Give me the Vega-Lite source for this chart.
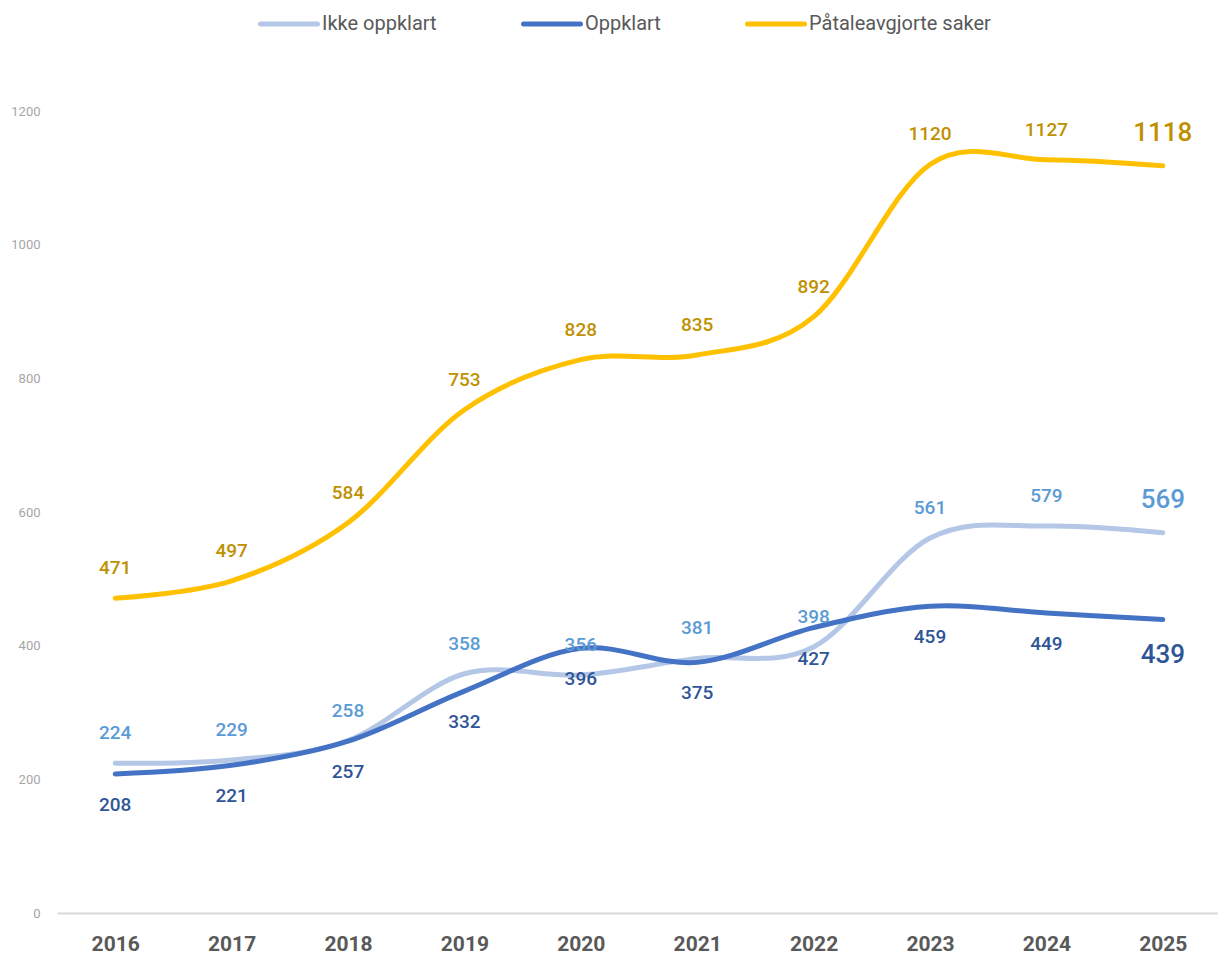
{
  "$schema": "https://vega.github.io/schema/vega-lite/v6.json",
  "width": 1164,
  "height": 802,
  "autosize": {"type": "none"},
  "padding": {"left": 57, "top": 111, "right": 0, "bottom": 43},
  "background": "white",
  "config": {
    "view": {"stroke": null},
    "font": "Roboto"
  },
  "data": {
    "values": [
      {"year": "2016", "series": "Ikke oppklart", "value": 224},
      {"year": "2017", "series": "Ikke oppklart", "value": 229},
      {"year": "2018", "series": "Ikke oppklart", "value": 258},
      {"year": "2019", "series": "Ikke oppklart", "value": 358},
      {"year": "2020", "series": "Ikke oppklart", "value": 356},
      {"year": "2021", "series": "Ikke oppklart", "value": 381},
      {"year": "2022", "series": "Ikke oppklart", "value": 398},
      {"year": "2023", "series": "Ikke oppklart", "value": 561},
      {"year": "2024", "series": "Ikke oppklart", "value": 579},
      {"year": "2025", "series": "Ikke oppklart", "value": 569},
      {"year": "2016", "series": "Oppklart", "value": 208},
      {"year": "2017", "series": "Oppklart", "value": 221},
      {"year": "2018", "series": "Oppklart", "value": 257},
      {"year": "2019", "series": "Oppklart", "value": 332},
      {"year": "2020", "series": "Oppklart", "value": 396},
      {"year": "2021", "series": "Oppklart", "value": 375},
      {"year": "2022", "series": "Oppklart", "value": 427},
      {"year": "2023", "series": "Oppklart", "value": 459},
      {"year": "2024", "series": "Oppklart", "value": 449},
      {"year": "2025", "series": "Oppklart", "value": 439},
      {"year": "2016", "series": "Påtaleavgjorte saker", "value": 471},
      {"year": "2017", "series": "Påtaleavgjorte saker", "value": 497},
      {"year": "2018", "series": "Påtaleavgjorte saker", "value": 584},
      {"year": "2019", "series": "Påtaleavgjorte saker", "value": 753},
      {"year": "2020", "series": "Påtaleavgjorte saker", "value": 828},
      {"year": "2021", "series": "Påtaleavgjorte saker", "value": 835},
      {"year": "2022", "series": "Påtaleavgjorte saker", "value": 892},
      {"year": "2023", "series": "Påtaleavgjorte saker", "value": 1120},
      {"year": "2024", "series": "Påtaleavgjorte saker", "value": 1127},
      {"year": "2025", "series": "Påtaleavgjorte saker", "value": 1118}
    ]
  },
  "encoding": {
    "x": {
      "field": "year", "type": "ordinal",
      "scale": {"type": "point", "padding": 0.5},
      "axis": {
        "title": null, "labelAngle": 0, "ticks": false,
        "domainColor": "#D9D9D9", "domainWidth": 2,
        "labelFont": "Roboto", "labelFontSize": 21, "labelFontWeight": "bold",
        "labelColor": "#595959", "labelPadding": 20
      }
    },
    "y": {
      "field": "value", "type": "quantitative",
      "scale": {"domain": [0, 1200], "nice": false},
      "axis": {
        "title": null, "values": [0, 200, 400, 600, 800, 1000, 1200], "format": "d",
        "grid": false, "domain": false, "ticks": false,
        "labelColor": "#A6A6A6", "labelFontSize": 13, "labelPadding": 17
      }
    }
  },
  "layer": [
    {
      "mark": {"type": "line", "interpolate": "cardinal", "strokeWidth": 5, "strokeCap": "round"},
      "encoding": {
        "color": {
          "field": "series", "type": "nominal",
          "scale": {
            "domain": ["Ikke oppklart", "Oppklart", "Påtaleavgjorte saker"],
            "range": ["#B4C7E7", "#4472C4", "#FFC000"]
          },
          "legend": {
            "title": null, "orient": "none", "direction": "horizontal",
            "legendX": 201, "legendY": -118,
            "symbolType": "stroke", "symbolSize": 3249, "symbolStrokeWidth": 5,
            "labelFontSize": 20, "labelColor": "#595959", "labelOffset": 2,
            "columnPadding": 76, "labelFont": "Roboto", "labelLimit": 400,
            "offset": 0,
            "encode": {"symbols": {"update": {"strokeCap": {"value": "round"}}}}
          }
        }
      }
    },
    {
      "transform": [{"filter": "datum.series != 'Oppklart'"}],
      "mark": {"type": "text", "baseline": "bottom", "dy": -20, "fontWeight": 500},
      "encoding": {
        "text": {"field": "value", "type": "quantitative"},
        "size": {"condition": {"test": "datum.year == '2025'", "value": 26}, "value": 19},
        "color": {
          "field": "series", "type": "nominal",
          "scale": {
            "domain": ["Ikke oppklart", "Oppklart", "Påtaleavgjorte saker"],
            "range": ["#5B9BD5", "#2F5597", "#BF9000"]
          },
          "legend": null
        }
      }
    },
    {
      "transform": [{"filter": "datum.series == 'Oppklart'"}],
      "mark": {"type": "text", "baseline": "top", "dy": 22, "fontWeight": 500},
      "encoding": {
        "text": {"field": "value", "type": "quantitative"},
        "size": {"condition": {"test": "datum.year == '2025'", "value": 26}, "value": 19},
        "color": {
          "field": "series", "type": "nominal",
          "scale": {
            "domain": ["Ikke oppklart", "Oppklart", "Påtaleavgjorte saker"],
            "range": ["#5B9BD5", "#2F5597", "#BF9000"]
          },
          "legend": null
        }
      }
    }
  ],
  "resolve": {"scale": {"color": "independent"}}
}
